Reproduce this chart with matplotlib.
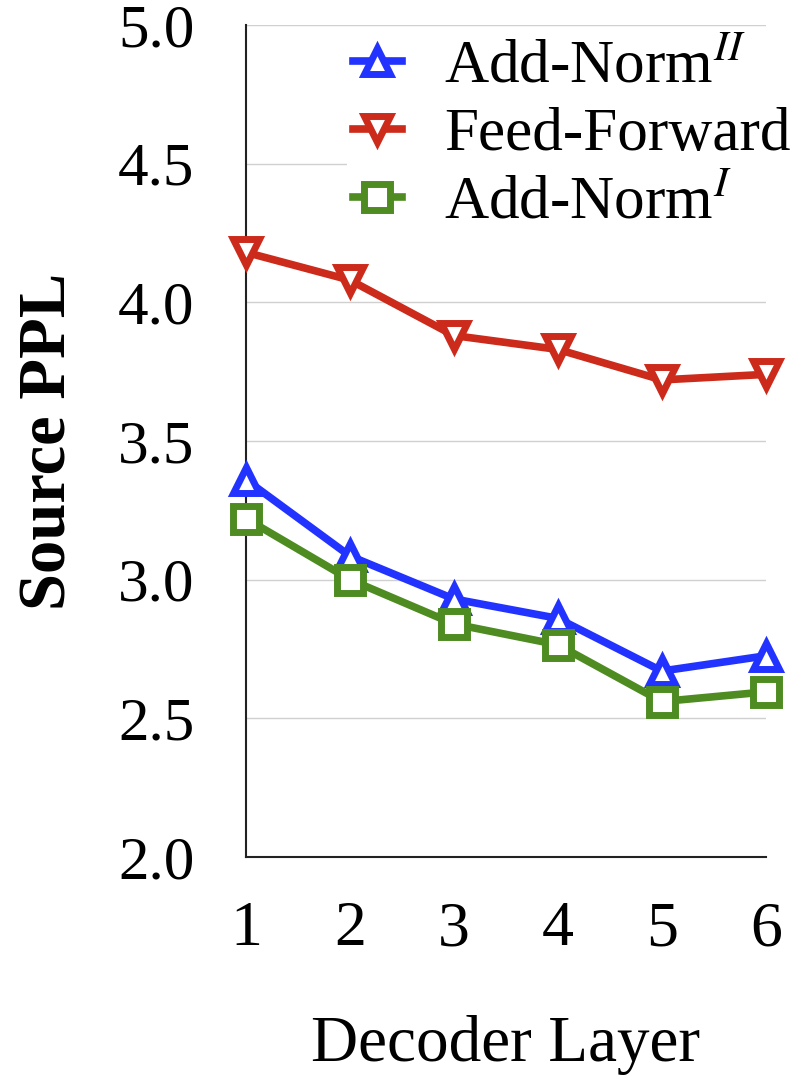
import matplotlib
matplotlib.use("Agg")
import matplotlib.pyplot as plt

layers = [1, 2, 3, 4, 5, 6]
add_norm_ii = [3.36, 3.085, 2.93, 2.86, 2.67, 2.725]
feed_forward = [4.18, 4.08, 3.88, 3.83, 3.72, 3.74]
add_norm_i = [3.22, 3.00, 2.84, 2.765, 2.56, 2.595]
y_ticks = [2.0, 2.5, 3.0, 3.5, 4.0, 4.5, 5.0]

plt.rcParams['font.family'] = ['Liberation Serif', 'DejaVu Serif']
plt.rcParams['mathtext.fontset'] = 'stix'

fig = plt.figure(figsize=(7.96, 10.86), dpi=100)
ax = fig.add_axes([0.309, 0.211, 0.653, 0.766])

common = dict(linewidth=5.5, markersize=18.5, markeredgewidth=5,
              markerfacecolor='white', clip_on=False, zorder=3)
ax.plot(layers, add_norm_ii, marker='^', color='#2233ff',
        label=r'Add-Norm$^{II}$', **common)
ax.plot(layers, feed_forward, marker='v', color='#cc2a1a',
        label='Feed-Forward', **common)
ax.plot(layers, add_norm_i, marker='s', color='#4e8c22',
        label=r'Add-Norm$^{I}$', **common)

ax.set_xlim(1, 6)
ax.set_ylim(2.0, 5.0)
ax.set_xticks(layers)
ax.set_yticks(y_ticks)
ax.set_yticklabels([f'{v:.1f}' for v in y_ticks])
ax.tick_params(axis='both', length=0)
ax.tick_params(axis='y', labelsize=44, pad=37)
ax.tick_params(axis='x', labelsize=46, pad=32)
ax.grid(axis='y', color='#d0d0d0', linewidth=1)
ax.set_axisbelow(True)
for s in ['top', 'right']:
    ax.spines[s].set_visible(False)
for s in ['left', 'bottom']:
    ax.spines[s].set_linewidth(1.5)
    ax.spines[s].set_color('#222222')

ax.set_xlabel('Decoder Layer', fontsize=47, labelpad=40)
ax.set_ylabel('Source PPL', fontsize=48, fontweight='bold', labelpad=28)

leg = ax.legend(loc='upper right', bbox_to_anchor=(1.06, 0.99), fontsize=44,
                frameon=True, framealpha=1, edgecolor='none',
                handlelength=0.8, handletextpad=0.7, labelspacing=0.2,
                borderpad=0.1, borderaxespad=0)
leg.get_frame().set_facecolor('white')

fig.savefig('out.png', dpi=100)
